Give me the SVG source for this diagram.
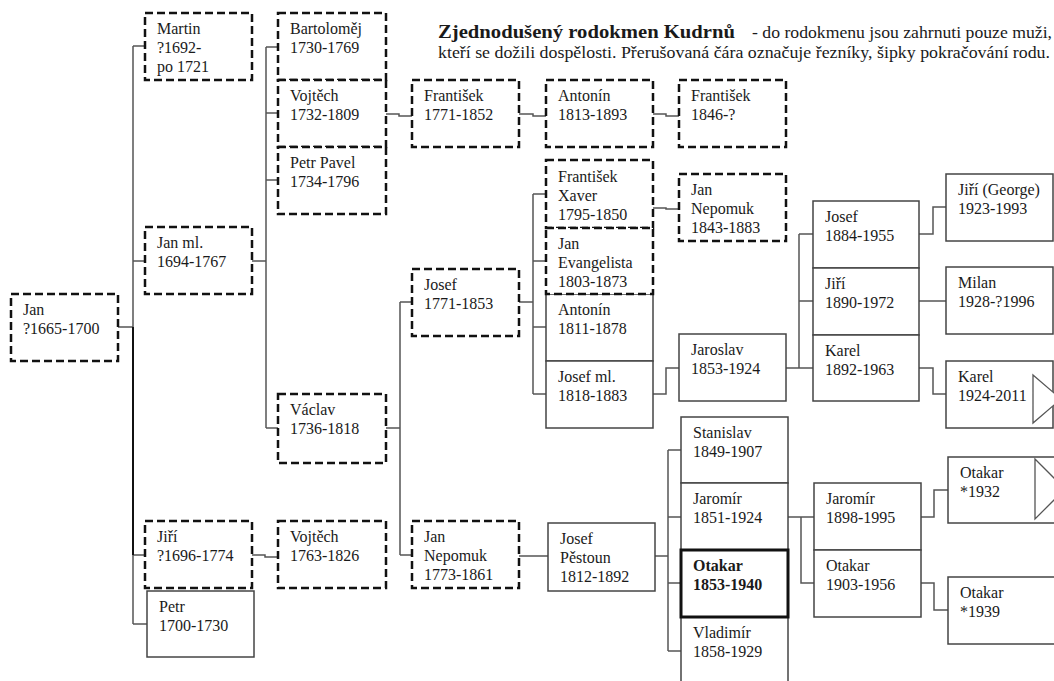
<svg xmlns="http://www.w3.org/2000/svg" width="1054" height="681" viewBox="0 0 1054 681">
<style>
.d{fill:#fff;stroke:#111;stroke-width:2.5;stroke-dasharray:8 4}
.s{fill:#fff;stroke:#444;stroke-width:1.5}
.b{fill:#fff;stroke:#111;stroke-width:3}
text{font-family:"Liberation Serif","Times New Roman",serif;font-size:16px;fill:#1a1a1a}
.bt{font-weight:bold}
.c path{fill:none;stroke:#555;stroke-width:1.5}
.arr{fill:#fff;stroke:#555;stroke-width:1.3}
</style>
<rect width="1054" height="681" fill="#fff"/>
<g id="title">
<text x="438" y="38" class="bt" style="font-size:19px" textLength="297" lengthAdjust="spacingAndGlyphs">Zjednodušený rodokmen Kudrnů</text>
<text x="752" y="38" textLength="300" lengthAdjust="spacingAndGlyphs">- do rodokmenu jsou zahrnuti pouze muži,</text>
<text x="438" y="58" textLength="612" lengthAdjust="spacingAndGlyphs">kteří se dožili dospělosti. Přerušovaná čára označuje řezníky, šipky pokračování rodu.</text>
</g>
<g class="c" id="connectors">
<path d="M118,327 H133 M133,46 V624 M133,46 H145 M133,261 H145 M133,555 H145 M133,624 H147"/>
<path d="M133,327 V555" style="stroke:#111;stroke-width:2"/>
<path d="M252,261 H266 M266,47 V428 M266,47 H278 M266,113 H278 M266,180 H278 M266,428 H278"/>
<path d="M386,114 H399 V116 H412"/>
<path d="M519,114 H533 V116 H546"/>
<path d="M653,114 H666 V116 H679"/>
<path d="M386,428 H400 M400,302 V555 M400,302 H412 M400,555 H412"/>
<path d="M519,302 H533 M533,194 V394 M533,194 H546 M533,261 H546 M533,327 H546 M533,394 H546"/>
<path d="M653,208 H666 V209 H679"/>
<path d="M653,394 H666 V368 H679"/>
<path d="M786,368 H813 M799,234 V368 M799,234 H813 M799,301 H813"/>
<path d="M919,234 H933 V207 H946"/>
<path d="M919,301 H946"/>
<path d="M919,368 H933 V394 H946"/>
<path d="M252,555 H265 V557 H278"/>
<path d="M519,556 H548"/>
<path d="M655,556 H668 M668,450 V651 M668,450 H681 M668,517 H681 M668,583 H681 M668,651 H681"/>
<path d="M788,517 H814 M801,517 V583 H814"/>
<path d="M921,517 H934 V490 H948"/>
<path d="M921,583 H934 V610 H948"/>
</g>
<g id="jan"><rect class="d" x="11" y="294" width="107" height="67"/><text x="23" y="315">Jan</text><text x="23" y="334">?1665-1700</text></g>
<g id="martin"><rect class="d" x="145" y="13" width="107" height="67"/><text x="157" y="34">Martin</text><text x="157" y="53">?1692-</text><text x="157" y="72">po 1721</text></g>
<g id="janml"><rect class="d" x="145" y="227" width="107" height="67"/><text x="157" y="248">Jan ml.</text><text x="157" y="267">1694-1767</text></g>
<g id="jiri1696"><rect class="d" x="145" y="521" width="107" height="67"/><text x="157" y="542">Jiří</text><text x="157" y="561">?1696-1774</text></g>
<g id="petr"><rect class="s" x="147" y="591" width="107" height="66"/><text x="159" y="612">Petr</text><text x="159" y="631">1700-1730</text></g>
<g id="bartolomej"><rect class="d" x="278" y="13" width="108" height="67"/><text x="290" y="34">Bartoloměj</text><text x="290" y="53">1730-1769</text></g>
<g id="vojtech1732"><rect class="d" x="278" y="80" width="108" height="67"/><text x="290" y="101">Vojtěch</text><text x="290" y="120">1732-1809</text></g>
<g id="petrpavel"><rect class="d" x="278" y="147" width="108" height="67"/><text x="290" y="168">Petr Pavel</text><text x="290" y="187">1734-1796</text></g>
<g id="vaclav"><rect class="d" x="278" y="394" width="108" height="69"/><text x="290" y="415">Václav</text><text x="290" y="434">1736-1818</text></g>
<g id="vojtech1763"><rect class="d" x="278" y="521" width="108" height="67"/><text x="290" y="542">Vojtěch</text><text x="290" y="561">1763-1826</text></g>
<g id="frantisek1771"><rect class="d" x="412" y="80" width="107" height="67"/><text x="424" y="101">František</text><text x="424" y="120">1771-1852</text></g>
<g id="josef1771"><rect class="d" x="412" y="269" width="107" height="67"/><text x="424" y="290">Josef</text><text x="424" y="309">1771-1853</text></g>
<g id="jannepomuk1773"><rect class="d" x="412" y="521" width="107" height="67"/><text x="424" y="542">Jan</text><text x="424" y="561">Nepomuk</text><text x="424" y="580">1773-1861</text></g>
<g id="antonin1813"><rect class="d" x="546" y="80" width="107" height="67"/><text x="558" y="101">Antonín</text><text x="558" y="120">1813-1893</text></g>
<g id="antonin1811"><rect class="s" x="546" y="294" width="107" height="67"/><text x="558" y="315">Antonín</text><text x="558" y="334">1811-1878</text></g>
<g id="josefml"><rect class="s" x="546" y="361" width="107" height="67"/><text x="558" y="382">Josef ml.</text><text x="558" y="401">1818-1883</text></g>
<g id="frantisekxaver"><rect class="d" x="546" y="160" width="107" height="68"/><text x="558" y="182">František</text><text x="558" y="201">Xaver</text><text x="558" y="220">1795-1850</text></g>
<g id="janevangelista"><rect class="d" x="546" y="228" width="107" height="66"/><text x="558" y="249">Jan</text><text x="558" y="268">Evangelista</text><text x="558" y="287">1803-1873</text></g>
<g id="josefpestoun"><rect class="s" x="548" y="523" width="107" height="68"/><text x="560" y="544">Josef</text><text x="560" y="563">Pěstoun</text><text x="560" y="582">1812-1892</text></g>
<g id="frantisek1846"><rect class="d" x="679" y="80" width="107" height="67"/><text x="691" y="101">František</text><text x="691" y="120">1846-?</text></g>
<g id="jannepomuk1843"><rect class="d" x="679" y="174" width="107" height="67"/><text x="691" y="195">Jan</text><text x="691" y="214">Nepomuk</text><text x="691" y="233">1843-1883</text></g>
<g id="jaroslav"><rect class="s" x="679" y="334" width="107" height="67"/><text x="691" y="355">Jaroslav</text><text x="691" y="374">1853-1924</text></g>
<g id="stanislav"><rect class="s" x="681" y="417" width="107" height="66"/><text x="693" y="438">Stanislav</text><text x="693" y="457">1849-1907</text></g>
<g id="jaromir1851"><rect class="s" x="681" y="483" width="107" height="67"/><text x="693" y="504">Jaromír</text><text x="693" y="523">1851-1924</text></g>
<g id="vladimir"><rect class="s" x="681" y="617" width="107" height="68"/><text x="693" y="638">Vladimír</text><text x="693" y="657">1858-1929</text></g>
<g id="otakar1853"><rect class="b" x="681" y="550" width="107" height="67"/><text x="693" y="571" class="bt">Otakar</text><text x="693" y="590" class="bt">1853-1940</text></g>
<g id="josef1884"><rect class="s" x="813" y="201" width="106" height="67"/><text x="825" y="222">Josef</text><text x="825" y="241">1884-1955</text></g>
<g id="jiri1890"><rect class="s" x="813" y="268" width="106" height="67"/><text x="825" y="289">Jiří</text><text x="825" y="308">1890-1972</text></g>
<g id="karel1892"><rect class="s" x="813" y="335" width="106" height="66"/><text x="825" y="356">Karel</text><text x="825" y="375">1892-1963</text></g>
<g id="jaromir1898"><rect class="s" x="814" y="483" width="107" height="67"/><text x="826" y="504">Jaromír</text><text x="826" y="523">1898-1995</text></g>
<g id="otakar1903"><rect class="s" x="814" y="550" width="107" height="67"/><text x="826" y="571">Otakar</text><text x="826" y="590">1903-1956</text></g>
<g id="jirigeorge"><rect class="s" x="946" y="174" width="107" height="67"/><text x="958" y="195">Jiří (George)</text><text x="958" y="214">1923-1993</text></g>
<g id="milan"><rect class="s" x="946" y="267" width="107" height="67"/><text x="958" y="288">Milan</text><text x="958" y="307">1928-?1996</text></g>
<g id="karel1924"><rect class="s" x="946" y="361" width="107" height="67"/><text x="958" y="382">Karel</text><text x="958" y="401">1924-2011</text><polygon class="arr" points="1033,375 1061,399 1033,423"/></g>
<g id="otakar1932"><rect class="s" x="948" y="457" width="108" height="66"/><text x="960" y="478">Otakar</text><text x="960" y="497">*1932</text><polygon class="arr" points="1035,459 1065,489 1035,519"/></g>
<g id="otakar1939"><rect class="s" x="948" y="577" width="108" height="67"/><text x="960" y="598">Otakar</text><text x="960" y="617">*1939</text></g>
</svg>
